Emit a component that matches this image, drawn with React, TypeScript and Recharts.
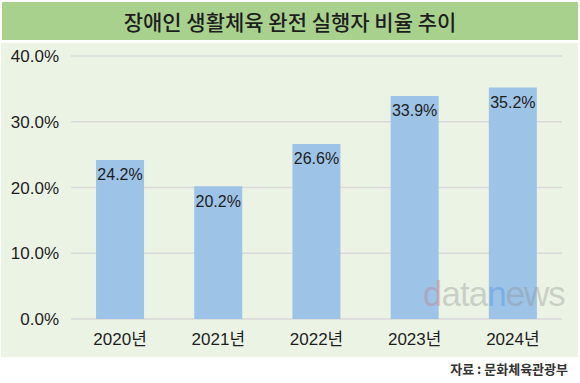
import { Bar, BarChart, CartesianGrid, LabelList, XAxis, YAxis } from "recharts";

const years = ['2020년', '2021년', '2022년', '2023년', '2024년'];
const rates = [24.2, 20.2, 26.6, 33.9, 35.2];
const yTicks = [0, 10, 20, 30, 40];

const data = years.map((year, i) => ({ year, rate: rates[i] }));

const FONT = '"Liberation Sans", "Noto Sans CJK KR", sans-serif';

export default function App() {
  return (
    <div style={{ position: 'absolute', left: 0, top: 0, width: 580, height: 383, background: '#fff', fontFamily: FONT }}>
      <div
        style={{
          position: 'absolute', left: 2, top: 2, width: 576, height: 38,
          background: '#A9D18E', color: '#1e1e1e', fontSize: 21, fontWeight: 500,
          fontFamily: '"Noto Sans CJK KR", sans-serif',
          display: 'flex', alignItems: 'center', justifyContent: 'center',
        }}
      >
        장애인 생활체육 완전 실행자 비율 추이
      </div>
      <div style={{ position: 'absolute', left: 1, top: 43, width: 577, height: 314, background: '#EBF3E5' }} />
      <div style={{ position: 'absolute', left: 1, top: 43 }}>
        <BarChart width={577} height={314} data={data} margin={{ top: 13, right: 16, bottom: 8, left: 0 }} barCategoryGap="25.5%">
          <CartesianGrid vertical={false} stroke="#D9D9D9" strokeWidth={1.5} />
          <XAxis
            dataKey="year"
            axisLine={false}
            tickLine={false}
            height={30}
            tickMargin={8}
            tick={{ fontSize: 17, fill: '#1e1e1e', fontFamily: FONT }}
          />
          <YAxis
            domain={[0, 40]}
            ticks={yTicks}
            axisLine={false}
            tickLine={false}
            width={70}
            tickMargin={6}
            tickFormatter={(v: number) => `${v.toFixed(1)}%`}
            tick={{ fontSize: 17, fill: '#1e1e1e', fontFamily: FONT }}
          />
          <Bar dataKey="rate" fill="#9DC3E6" isAnimationActive={false}>
            <LabelList
              dataKey="rate"
              position="insideTop"
              offset={9}
              formatter={(v: any) => `${Number(v).toFixed(1)}%`}
              style={{ fontSize: 16, fill: '#1e1e1e', fontFamily: FONT }}
            />
          </Bar>
        </BarChart>
      </div>
      <div
        style={{
          position: 'absolute', left: 423, top: 276, fontSize: 35, letterSpacing: -1, lineHeight: 1,
          fontFamily: '"Liberation Sans", sans-serif', color: 'rgba(140,140,140,0.35)', whiteSpace: 'nowrap',
          pointerEvents: 'none',
        }}
      >
        <span style={{ color: 'rgba(220,90,90,0.28)' }}>d</span>ata<span style={{ color: 'rgba(60,140,230,0.35)' }}>n</span>ews
      </div>
      <div
        style={{
          position: 'absolute', right: 12, top: 359, fontSize: 13, fontWeight: 'bold',
          color: '#333', fontFamily: '"Noto Sans CJK KR", sans-serif',
        }}
      >
        자료 : 문화체육관광부
      </div>
    </div>
  );
}
